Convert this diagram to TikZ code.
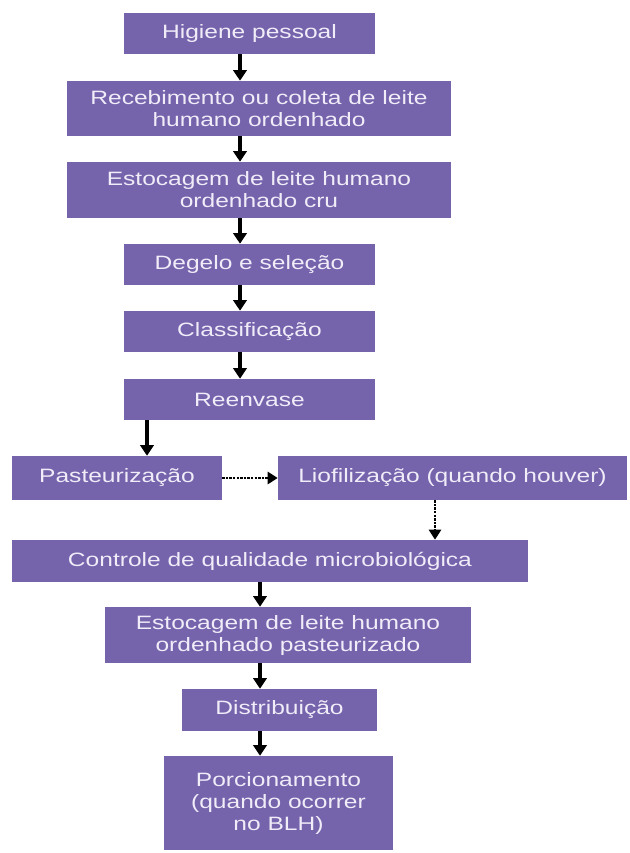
\documentclass[tikz,border=0pt]{standalone}
\usepackage{fontspec}
\setmainfont{Liberation Sans}[FakeStretch=1.27]
\usetikzlibrary{arrows.meta}
\definecolor{boxfill}{RGB}{117,99,172}
\definecolor{boxtext}{RGB}{240,236,248}
\tikzset{
  stepbox/.style={rectangle, fill=boxfill, text=boxtext, inner sep=0pt, align=center,
    font=\fontsize{14.5}{16.5}\selectfont},
  arr/.style={draw=black, line width=2.8pt, -{Triangle[width=10pt,length=8pt]}},
  darr/.style={draw=black, line width=2.2pt, dash pattern=on 1.8pt off 0.9pt, -{Triangle[width=9pt,length=7.5pt]}}
}
\begin{document}
\begin{tikzpicture}[x=0.75pt,y=-0.75pt]
\useasboundingbox (0,0) rectangle (630,853);
\node[stepbox, minimum width=188.25pt, minimum height=30.75pt] (hig) at (249.5,33.5) {Higiene pessoal};
\node[stepbox, minimum width=288pt, minimum height=41.25pt] (rec) at (259,108.5) {Recebimento ou coleta de leite\\humano ordenhado};
\node[stepbox, minimum width=288pt, minimum height=42pt] (est) at (259,190) {Estocagem de leite humano\\ordenhado cru};
\node[stepbox, minimum width=188.25pt, minimum height=30.75pt] (deg) at (249.5,264.5) {Degelo e seleção};
\node[stepbox, minimum width=188.25pt, minimum height=30.75pt] (cla) at (249.5,331.5) {Classificação};
\node[stepbox, minimum width=188.25pt, minimum height=30.75pt] (ree) at (249.5,399.5) {Reenvase};
\node[stepbox, minimum width=157.5pt, minimum height=33pt] (pas) at (117,478) {Pasteurização};
\node[stepbox, minimum width=261.75pt, minimum height=33pt] (lio) at (452.5,478) {Liofilização (quando houver)};
\node[stepbox, minimum width=387pt, minimum height=31.5pt] (con) at (270,561) {Controle de qualidade microbiológica};
\node[stepbox, minimum width=274.5pt, minimum height=42pt] (esp) at (288,635) {Estocagem de leite humano\\ordenhado pasteurizado};
\node[stepbox, minimum width=146.25pt, minimum height=31.5pt] (dis) at (279.5,710) {Distribuição};
\node[stepbox, minimum width=171.75pt, minimum height=70.5pt] (por) at (278.5,803) {Porcionamento\\(quando ocorrer\\no BLH)};
\coordinate (xa) at (240,0);
\coordinate (xb) at (147,0);
\coordinate (xc) at (435,0);
\coordinate (xd) at (260,0);
\draw[arr] (hig.south -| xa) -- (rec.north -| xa);
\draw[arr] (rec.south -| xa) -- (est.north -| xa);
\draw[arr] (est.south -| xa) -- (deg.north -| xa);
\draw[arr] (deg.south -| xa) -- (cla.north -| xa);
\draw[arr] (cla.south -| xa) -- (ree.north -| xa);
\draw[arr] (ree.south -| xb) -- (pas.north -| xb);
\draw[darr] (pas.east) -- (lio.west);
\draw[darr] (lio.south -| xc) -- (con.north -| xc);
\draw[arr] (con.south -| xd) -- (esp.north -| xd);
\draw[arr] (esp.south -| xd) -- (dis.north -| xd);
\draw[arr] (dis.south -| xd) -- (por.north -| xd);
\end{tikzpicture}
\end{document}
